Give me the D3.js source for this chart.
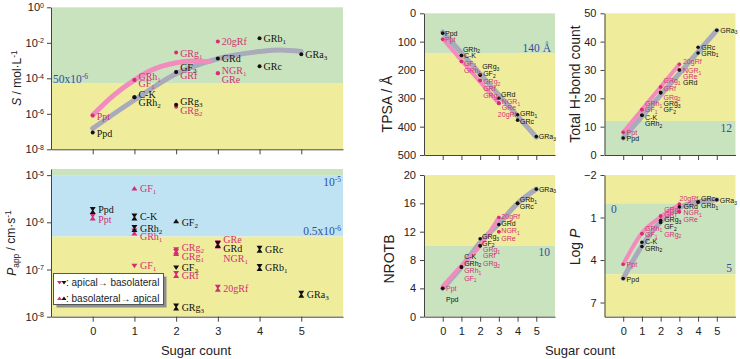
<!DOCTYPE html>
<html>
<head>
<meta charset="utf-8">
<script src="https://cdn.jsdelivr.net/npm/d3@7"></script>
<style>
body { margin: 0; background: #fff; }
svg { display: block; }
</style>
</head>
<body>
<svg id="chart" width="740" height="359"></svg>
<script>
// compounds, sugar counts and aglycone type (d = protopanaxadiol, t = protopanaxatriol)
var names  = ["Ppd","Ppt","C-K","GRh2","GRh1","GF1","GF2","GRg3","GRg1","GRg2","GRf","GRd","NGR1","GRe","20gRf","GRb1","GRc","GRa3"];
var sugars = [0, 0, 1, 1, 1, 1, 2, 2, 2, 2, 2, 3, 3, 3, 3, 4, 4, 5];
var types  = ["d","t","d","d","t","t","d","d","t","t","t","d","t","t","t","d","d","d"];

// solubility S (mol/L)
var solubility = [8.7e-8, 8e-7, 8.5e-6, 8.5e-6, 8e-5, 8e-5, 2.3e-4, 3.2e-6, 2.8e-3, 2.5e-6, 2.3e-4, 1.3e-3, 1.9e-4, 1.9e-4, 1.2e-2, 1.8e-2, 4.7e-4, 2.3e-3];
// Papp (cm/s): apical->basolateral and basolateral->apical
var pappAB = [1.78e-6, 1.3e-6, 1.3e-6, 7.4e-7, 6.2e-7, 1.2e-7, 1.1e-7, 1.6e-8, 2.3e-7, 2.5e-7, 7.8e-8, 3.4e-7, 3.3e-7, 3.5e-7, 4e-8, 1.1e-7, 2.7e-7, 3e-8];
var pappBA = [1.78e-6, 1.3e-6, 1.3e-6, 7.4e-7, 6.2e-7, 5.2e-6, 1.05e-6, 1.6e-8, 2.3e-7, 2.5e-7, 7.8e-8, 3.4e-7, 3.3e-7, 3.5e-7, 4e-8, 1.1e-7, 2.7e-7, 3e-8];
var tpsa   = [70, 92, 149, 149, 170, 170, 218, 218, 237, 237, 237, 300, 317, 317, 317, 358, 377, 435];
var hbond  = [6, 8, 14, 14, 16, 16, 22, 22, 24, 22, 24, 30, 30, 30, 32, 36, 38, 44];
var nrotb  = [4, 4, 7, 7, 7, 7, 10, 11, 10, 10, 10, 13, 12, 12, 14, 16, 16, 18];
var logp   = [5.3, 4.3, 2.75, 3.05, 2.15, 2.15, 1.35, 1.2, 0.9, 1.3, 0.9, 0.25, 0.6, 0.6, 0.05, -0.1, -0.1, -0.25];

// trend curves (sugar count, value)
var sTrendSugarD = [0, 1, 2, 3, 4, 4.5, 5];
var sTrendD = [1.5e-7, 6e-6, 1.8e-4, 1.26e-3, 3.2e-3, 3.9e-3, 3.2e-3];
var sTrendSugarT = [0, 0.5, 1, 1.4, 2, 2.4, 2.8];
var sTrendT = [8.5e-7, 1.1e-5, 7.9e-5, 2.8e-4, 7.6e-4, 9.3e-4, 8.7e-4];
var tpsaTrendD = [[0, 66], [5, 437]], tpsaTrendT = [[0, 90], [3, 318]];
var hbondTrendD = [[0, 6], [5, 44]], hbondTrendT = [[0, 8], [3, 32]];
var nrotbTrendD = [[0, 4], [1, 7], [2, 10.5], [3, 13.1], [4, 16], [5, 18]];
var nrotbTrendT = [[0, 4.3], [1, 7.2], [2, 10], [3, 14]];
var logpTrendD = [[0, 5.3], [1, 3.0], [2, 1.3], [3, 0.3], [4, -0.1], [5, -0.25]];
var logpTrendT = [[0, 4.3], [1, 2.1], [2, 0.95], [3, 0.1]];

// rule-of-thumb limits
var sLimit = 5e-5, pLimits = [1e-5, 5e-7], tpsaLimit = 140, hbondLimit = 12, nrotbLimit = 10, logpLimits = [0, 5];
var sugarTicks = [0, 1, 2, 3, 4, 5];

// ---- styles
var green = "#c9e3bf", yellow = "#efed9c", blue = "#bfe3f3";
var pink = "#d42f74", black = "#111", pinkLine = "#f28cbd", grayLine = "#a9aabb", note = "#2f4f9e";
var serif = "'Liberation Serif','Times New Roman',serif";
var sans = "'Liberation Sans',Arial,sans-serif";

var svg = d3.select("#chart");

// ---- scales
var xL  = d3.scaleLinear().domain([-1, 6]).range([51, 343]);
var xR1 = d3.scaleLinear().domain([-1, 6]).range([424, 555]);
var xR2 = d3.scaleLinear().domain([-1, 6]).range([604.5, 735.5]);
var yS = d3.scaleLog().domain([1e-8, 1]).range([149.3, 7.3]);
var yP = d3.scaleLog().domain([1e-8, Math.pow(10, -4.87)]).range([316.7, 169]);
var yT = d3.scaleLinear().domain([0, 500]).range([13.3, 155]);
var yH = d3.scaleLinear().domain([0, 50]).range([155, 13.3]);
var yN = d3.scaleLinear().domain([0, 20]).range([316.7, 175]);
var yL = d3.scaleLinear().domain([-2, 8]).range([175, 316.7]);

// ---- helpers
function bands(x, y, edges, colors) {
  var r = x.range();
  colors.forEach(function(c, i) {
    var a = y(edges[i]), b = y(edges[i + 1]);
    svg.append("rect").attr("x", r[0]).attr("width", r[1] - r[0])
      .attr("y", Math.min(a, b)).attr("height", Math.abs(b - a)).attr("fill", c);
  });
}

function addName(t, name, sub) {
  var m = /^(.*\D)(\d)$/.exec(name);
  if (m) {
    t.append("tspan").text(m[1]);
    t.append("tspan").attr("font-size", sub).attr("dy", "0.3em").text(m[2]);
  } else {
    t.text(name);
  }
}

function trend(x, y, pts, color, w) {
  var line = d3.line().x(function(d) { return x(d[0]); }).y(function(d) { return y(d[1]); }).curve(d3.curveMonotoneX);
  svg.append("path").datum(pts).attr("d", line).attr("fill", "none")
    .attr("stroke", color).attr("stroke-width", w).attr("stroke-linecap", "round");
}

function dots(x, y, vals, r) {
  ["t", "d"].forEach(function(tp) {
    names.forEach(function(n, i) {
      if (types[i] != tp) return;
      svg.append("circle").attr("cx", x(sugars[i])).attr("cy", y(vals[i])).attr("r", r)
        .attr("fill", tp == "t" ? pink : black);
    });
  });
}

function labels(x, y, vals, offs, font, size, sub) {
  names.forEach(function(n, i) {
    var o = offs[n];
    if (!o) return;
    var t = svg.append("text").attr("x", x(sugars[i]) + o[0]).attr("y", y(vals[i]) + o[1]).attr("dy", "0.35em")
      .attr("font-family", font).attr("font-size", size).attr("fill", types[i] == "t" ? pink : black);
    addName(t, n, sub);
  });
}

function styleAxis(g) {
  g.selectAll("path, line").attr("stroke", "#444").attr("stroke-width", 1);
  g.selectAll("text").attr("font-family", sans).attr("font-size", 11).attr("fill", "#222");
}

function powLabels(g) {
  g.selectAll(".tick text").each(function(d) {
    var e = Math.round(Math.log10(d));
    var t = d3.select(this).text("");
    t.append("tspan").text("10");
    t.append("tspan").attr("dy", "-0.5em").attr("font-size", "7px").text(e);
  });
}

function yAxis(x, y, ticks, log) {
  var ax = d3.axisLeft(y).tickValues(ticks).tickSize(4).tickSizeOuter(0).tickPadding(log ? 3 : 4);
  var g = svg.append("g").attr("transform", "translate(" + x.range()[0] + ",0)").call(ax);
  styleAxis(g);
  if (log) powLabels(g);
}

function xAxis(x, y, showLabels) {
  var ax = d3.axisBottom(x).tickValues(sugarTicks).tickSize(5).tickSizeOuter(0).tickPadding(6)
    .tickFormat(showLabels ? d3.format("d") : "");
  var g = svg.append("g").attr("transform", "translate(0," + d3.max(y.range()) + ")").call(ax);
  styleAxis(g);
}

function noteText(x, y, txt, anchor, sup) {
  var t = svg.append("text").attr("x", x).attr("y", y).attr("dy", "0.35em").attr("text-anchor", anchor)
    .attr("font-family", serif).attr("font-size", 11.5).attr("fill", note);
  t.append("tspan").text(txt);
  if (sup) t.append("tspan").attr("dy", "-0.5em").attr("font-size", "7.5px").text(sup);
}

function yTitle(x, y, parts, size) {
  var t = svg.append("text").attr("transform", "translate(" + x + "," + y + ") rotate(-90)")
    .attr("text-anchor", "middle").attr("font-family", sans).attr("font-size", size).attr("fill", "#222");
  parts.forEach(function(p) {
    var s = t.append("tspan").text(p.t);
    if (p.i) s.attr("font-style", "italic");
    if (p.sup) s.attr("dy", "-0.45em").attr("font-size", "0.7em");
    if (p.sub) s.attr("dy", "0.35em").attr("font-size", "0.7em");
    if (p.back) s.attr("dy", p.back);
  });
}

// ================= Solubility panel
bands(xL, yS, [1, sLimit, 1e-8], [green, yellow]);
trend(xL, yS, d3.zip(sTrendSugarD, sTrendD), grayLine, 5);
trend(xL, yS, d3.zip(sTrendSugarT, sTrendT), pinkLine, 5);
dots(xL, yS, solubility, 2);
labels(xL, yS, solubility, {
  "Ppd": [4, 1], "Ppt": [4, 1], "C-K": [4, -2.6], "GRh2": [4, 4.7], "GRh1": [4, -4], "GF1": [4, 3.5],
  "GF2": [4, -4.5], "GRf": [4, 4], "GRg3": [4, -3.3], "GRg2": [4, 3.6], "GRg1": [4, 0.7],
  "20gRf": [4, 0], "GRd": [4, 0], "NGR1": [4, -2.5], "GRe": [4, 6.5], "GRb1": [4, 0], "GRc": [4, 0], "GRa3": [4, 0]
}, serif, 10, 7);
noteText(53, 79, "50x10", "start", "-6");
yAxis(xL, yS, [1e-8, 1e-6, 1e-4, 1e-2, 1], true);
xAxis(xL, yS, false);
yTitle(20.5, 78, [{t: "S", i: true}, {t: " / mol\u00b7L"}, {t: "-1", sup: true}], 12);

// ================= Papp panel
bands(xL, yP, [Math.pow(10, -4.87), pLimits[0], pLimits[1], 1e-8], [green, blue, yellow]);
var hourglass = "M-3,-3.5H3L0.7,0L3,3.5H-3L-0.7,0Z";
var triDown = "M-3,-2H3L0,2.5Z", triUp = "M-3,2H3L0,-2.5Z";
["t", "d"].forEach(function(tp) {
  names.forEach(function(n, i) {
    if (types[i] != tp) return;
    var c = tp == "t" ? pink : black, x = xL(sugars[i]);
    if (pappAB[i] == pappBA[i]) {
      svg.append("path").attr("d", hourglass).attr("fill", c).attr("transform", "translate(" + x + "," + yP(pappAB[i]) + ")");
    } else {
      svg.append("path").attr("d", triDown).attr("fill", c).attr("transform", "translate(" + x + "," + yP(pappAB[i]) + ")");
      svg.append("path").attr("d", triUp).attr("fill", c).attr("transform", "translate(" + x + "," + yP(pappBA[i]) + ")");
    }
  });
});
labels(xL, yP, pappAB, {
  "Ppd": [5.5, -1.2], "Ppt": [5.5, 2.4], "C-K": [5.5, 0], "GRh2": [5.5, -0.4], "GRh1": [5.5, 4], "GF1": [5.5, 0],
  "GF2": [5.5, 0], "GRg3": [5.5, 0], "GRg2": [5.5, -3], "GRg1": [5.5, 3.7], "GRf": [5.5, 1],
  "GRe": [5.5, -4.4], "GRd": [5.5, 4.3], "NGR1": [5.5, 13.1], "20gRf": [5.5, 0], "GRc": [5.5, 0], "GRb1": [5.5, 0], "GRa3": [5.5, 0]
}, serif, 10, 7);
labels(xL, yP, pappBA, {"GF1": [5.5, 0], "GF2": [5.5, 1.5]}, serif, 10, 7);
noteText(341, 181.7, "10", "end", "-5");
noteText(341, 230.7, "0.5x10", "end", "-6");
yAxis(xL, yP, [1e-8, 1e-7, 1e-6, 1e-5], true);
xAxis(xL, yP, true);
yTitle(16, 243, [{t: "P", i: true}, {t: "app", sub: true}, {t: " / cm\u00b7s", back: "-0.35em"}, {t: "-1", sup: true}], 12);

// legend
svg.append("rect").attr("x", 56.5).attr("y", 276.5).attr("width", 110).attr("height", 31).attr("fill", "#8e8e8e");
svg.append("rect").attr("x", 53.5).attr("y", 273.5).attr("width", 110).attr("height", 31).attr("fill", "#fff").attr("stroke", "#555");
[["M-2.5,-1.5H2.5L0,2Z", 282.5, ": apical\u2192 basolateral"], ["M-2.5,1.5H2.5L0,-2Z", 298.5, ": basolateral\u2192 apical"]].forEach(function(r) {
  svg.append("path").attr("d", r[0]).attr("fill", pink).attr("transform", "translate(59.5," + r[1] + ")");
  svg.append("path").attr("d", r[0]).attr("fill", black).attr("transform", "translate(64," + r[1] + ")");
  svg.append("text").attr("x", 66).attr("y", r[1]).attr("dy", "0.35em").attr("font-family", sans)
    .attr("font-size", 10).attr("fill", "#222").text(r[2]);
});

svg.append("text").attr("x", 196).attr("y", 350).attr("dy", "0.35em").attr("text-anchor", "middle")
  .attr("font-family", sans).attr("font-size", 13).attr("fill", "#222").text("Sugar count");

// ================= TPSA panel
bands(xR1, yT, [0, tpsaLimit, 500], [green, yellow]);
trend(xR1, yT, tpsaTrendD, grayLine, 5);
trend(xR1, yT, tpsaTrendT, pinkLine, 4);
dots(xR1, yT, tpsa, 1.8);
labels(xR1, yT, tpsa, {
  "Ppd": [2.3, 0], "Ppt": [2.3, 0.6], "GRh2": [1.5, -6.2], "C-K": [2.5, 0.5], "GF1": [2.5, 1.8], "GRh1": [2.5, 9.2],
  "GRg3": [2, -8.4], "GF2": [3, -1.1], "GRg2": [3, 1.2], "GRf": [3, 7.8], "GRg1": [3, 15.5],
  "GRd": [2.2, -3.3], "NGR1": [3, -1.4], "GRe": [3, 4.6], "20gRf": [-1, 11.9],
  "GRb1": [2.5, -0.8], "GRc": [2.5, 1.6], "GRa3": [2.5, 0]
}, sans, 7, 5);
noteText(551, 48.3, "140 \u00c5", "end");
yAxis(xR1, yT, [0, 100, 200, 300, 400, 500], false);
xAxis(xR1, yT, false);
yTitle(392, 104, [{t: "TPSA / \u00c5"}], 14);

// ================= H-bond panel
bands(xR2, yH, [50, hbondLimit, 0], [yellow, green]);
trend(xR2, yH, hbondTrendD, grayLine, 5);
trend(xR2, yH, hbondTrendT, pinkLine, 4);
dots(xR2, yH, hbond, 1.8);
labels(xR2, yH, hbond, {
  "GRa3": [3.5, 0], "GRc": [3.3, 0.4], "GRb1": [3.3, 0.3],
  "20gRf": [3.6, -2.3], "NGR1": [3.6, 0.7], "GRe": [3.6, 6.7], "GRd": [3.6, 12.3],
  "GRg1": [2.8, -6.3], "GRf": [2.8, 1.3], "GRg2": [2.8, 4.6], "GRg3": [2.8, 11], "GF2": [2.8, 17.3],
  "GRh1": [3.1, -5.7], "GF1": [3.1, 0.3], "C-K": [3.1, 2], "GRh2": [3.1, 8.7],
  "Ppt": [3.4, 0], "Ppd": [3.4, 0.3]
}, sans, 7, 5);
noteText(732, 127.7, "12", "end");
yAxis(xR2, yH, [0, 10, 20, 30, 40, 50], false);
xAxis(xR2, yH, false);
yTitle(580, 84, [{t: "Total H-bond count"}], 14);

// ================= NROTB panel
bands(xR1, yN, [20, nrotbLimit, 0], [yellow, green]);
trend(xR1, yN, nrotbTrendD, grayLine, 5);
trend(xR1, yN, nrotbTrendT, pinkLine, 4);
dots(xR1, yN, nrotb, 1.8);
labels(xR1, yN, nrotb, {
  "GRa3": [2.6, 0], "GRb1": [2.2, -3.3], "GRc": [2.2, 3.4],
  "20gRf": [2.5, -0.8], "GRd": [2.5, -1.3], "NGR1": [2.5, -0.7], "GRe": [2.5, 6.6],
  "GRg3": [1.8, -2.1], "GF2": [1.8, -2.6], "GRg1": [2.8, 4.1], "GRf": [2.8, 10.1], "GRg2": [2.8, 17.8],
  "C-K": [2.7, -10.4], "GRh2": [2.7, -3.8], "GRh1": [2.7, 3.9], "GF1": [2.7, 11.2],
  "Ppt": [3.3, 0.6], "Ppd": [3.3, 11.6]
}, sans, 7, 5);
noteText(550, 251.7, "10", "end");
yAxis(xR1, yN, [0, 4, 8, 12, 16, 20], false);
xAxis(xR1, yN, true);
yTitle(394, 259, [{t: "NROTB"}], 14);

// ================= Log P panel
bands(xR2, yL, [-2, logpLimits[0], logpLimits[1], 8], [yellow, green, yellow]);
trend(xR2, yL, logpTrendD, grayLine, 5);
trend(xR2, yL, logpTrendT, pinkLine, 4);
dots(xR2, yL, logp, 1.8);
labels(xR2, yL, logp, {
  "Ppd": [3.4, 1], "Ppt": [3.4, 0],
  "GRh1": [3.1, -5.5], "GF1": [3.1, 1.2], "C-K": [3.1, -0.6], "GRh2": [3.1, 1.7],
  "GRg1": [3.5, -7], "GRf": [3.5, -1.7], "GRg3": [3.5, -0.3], "GF2": [3.5, 4.2], "GRg2": [3.5, 12.5],
  "20gRf": [0.2, -5.7], "GRd": [4.2, -0.6], "NGR1": [4.2, 0.9], "GRe": [4.2, 7.5],
  "GRc": [3, -3.6], "GRb1": [3, 3.8], "GRa3": [3, 0.9]
}, sans, 7, 5);
noteText(611, 209.3, "0", "start");
noteText(732, 268.3, "5", "end");
yAxis(xR2, yL, [-2, 1, 4, 7], false);
xAxis(xR2, yL, true);
yTitle(580, 247, [{t: "Log "}, {t: "P", i: true}], 14);

svg.append("text").attr("x", 580).attr("y", 350).attr("dy", "0.35em").attr("text-anchor", "middle")
  .attr("font-family", sans).attr("font-size", 13).attr("fill", "#222").text("Sugar count");
</script>
</body>
</html>
